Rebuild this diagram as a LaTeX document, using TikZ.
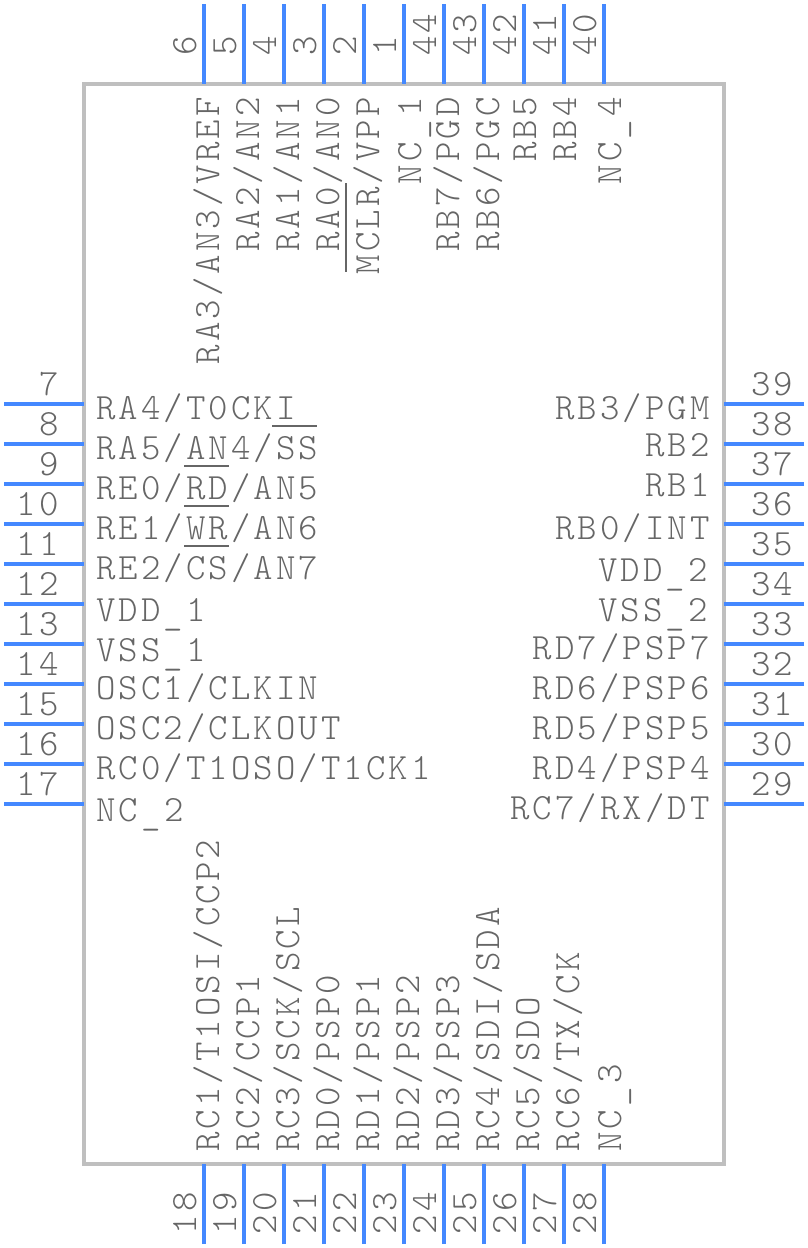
\documentclass[tikz,border=0pt]{standalone}
\usepackage{fontspec}
\setmonofont{Latin Modern Mono Light}[LetterSpace=8.3]
\usetikzlibrary{positioning}

\definecolor{pinblue}{HTML}{4488FF}
\definecolor{boxgray}{HTML}{BFBFBF}
\definecolor{txtgray}{HTML}{666666}
\newcommand{\PinBar}{\kern3pt\raisebox{-3.5pt}{\_}\kern3.5pt}

\begin{document}
\begin{tikzpicture}
        [x=1pt,y=-1pt,
        PinLine/.style={draw=pinblue, line width=4pt},
        BoxLine/.style={draw=boxgray, line width=4pt, fill=white},
        BarLine/.style={draw=txtgray, line width=2pt},
        PinText/.style={inner sep=0pt, text=txtgray, font=\ttfamily\fontsize{37}{40}\selectfont}]

        \useasboundingbox (0,0) rectangle (808,1248);

        % chip body
        \draw[BoxLine] (84,84) rectangle (724,1164);

        % left pins
        \foreach \y/\b/\n/\t in {404/419/7/{RA4/T0CKI},444/459/8/{RA5/AN4/SS},484/499/9/{RE0/RD/AN5},524/539/10/{RE1/WR/AN6},564/579/11/{RE2/CS/AN7},604/621/12/{VDD\PinBar1},644/661/13/{VSS\PinBar1},684/699/14/{OSC1/CLKIN},724/739/15/{OSC2/CLKOUT},764/779/16/{RC0/T1OSO/T1CK1},804/821/17/{NC\PinBar2}}{
            \coordinate (l_\n) at (4,\y);
            \coordinate (lb_\n) at (84,\y);
            \draw[PinLine] (l_\n)--(lb_\n);
            \node[PinText,anchor=base east] (ln_\n) at (59,\y-9) {\n};
            \node[PinText,anchor=base west] (lt_\n) at (96,\b) {\t};
        }

        % right pins
        \foreach \y/\b/\e/\n/\t in {404/419/710/39/{RB3/PGM},444/456/710/38/{RB2},484/496/710/37/{RB1},524/539/710/36/{RB0/INT},564/581/708/35/{VDD\PinBar2},604/621/708/34/{VSS\PinBar2},644/659/710/33/{RD7/PSP7},684/699/710/32/{RD6/PSP6},724/739/710/31/{RD5/PSP5},764/779/710/30/{RD4/PSP4},804/819/710/29/{RC7/RX/DT}}{
            \coordinate (r_\n) at (804,\y);
            \coordinate (rb_\n) at (724,\y);
            \draw[PinLine] (r_\n)--(rb_\n);
            \node[PinText,anchor=base west] (rn_\n) at (751,\y-9) {\n};
            \node[PinText,anchor=base east] (rt_\n) at (\e,\b) {\t};
        }

        % top pins
        \foreach \x/\b/\n/\t in {204/219/6/{RA3/AN3/VREF},244/259/5/{RA2/AN2},284/299/4/{RA1/AN1},324/339/3/{RA0/AN0},364/379/2/{MCLR/VPP},404/421/1/{NC\PinBar1},444/459/44/{RB7/PGD},484/499/43/{RB6/PGC},524/536/42/{RB5},564/576/41/{RB4},604/621/40/{NC\PinBar4}}{
            \coordinate (t_\n) at (\x,4);
            \coordinate (tb_\n) at (\x,84);
            \draw[PinLine] (t_\n)--(tb_\n);
            \node[PinText,rotate=90,anchor=base west] (tn_\n) at (\x-8,56) {\n};
            \node[PinText,rotate=90,anchor=base east] (tt_\n) at (\b,97) {\t};
        }

        % bottom pins
        \foreach \x/\b/\n/\t in {204/219/18/{RC1/T1OSI/CCP2},244/259/19/{RC2/CCP1},284/299/20/{RC3/SCK/SCL},324/339/21/{RD0/PSP0},364/379/22/{RD1/PSP1},404/419/23/{RD2/PSP2},444/459/24/{RD3/PSP3},484/499/25/{RC4/SDI/SDA},524/539/26/{RC5/SDO},564/579/27/{RC6/TX/CK},604/621/28/{NC\PinBar3}}{
            \coordinate (b_\n) at (\x,1244);
            \coordinate (bb_\n) at (\x,1164);
            \draw[PinLine] (b_\n)--(bb_\n);
            \node[PinText,rotate=90,anchor=base east] (bn_\n) at (\x-8,1192) {\n};
            \node[PinText,rotate=90,anchor=base west] (bt_\n) at (\b,1152) {\t};
        }

        % overbars
        \draw[BarLine] (272,425.7)--(317,425.7);
        \draw[BarLine] (184,465.7)--(229,465.7);
        \draw[BarLine] (184,505.7)--(229,505.7);
        \draw[BarLine] (184,545.7)--(229,545.7);
        \draw[BarLine] (345.7,183)--(345.7,272);
\end{tikzpicture}
\end{document}
